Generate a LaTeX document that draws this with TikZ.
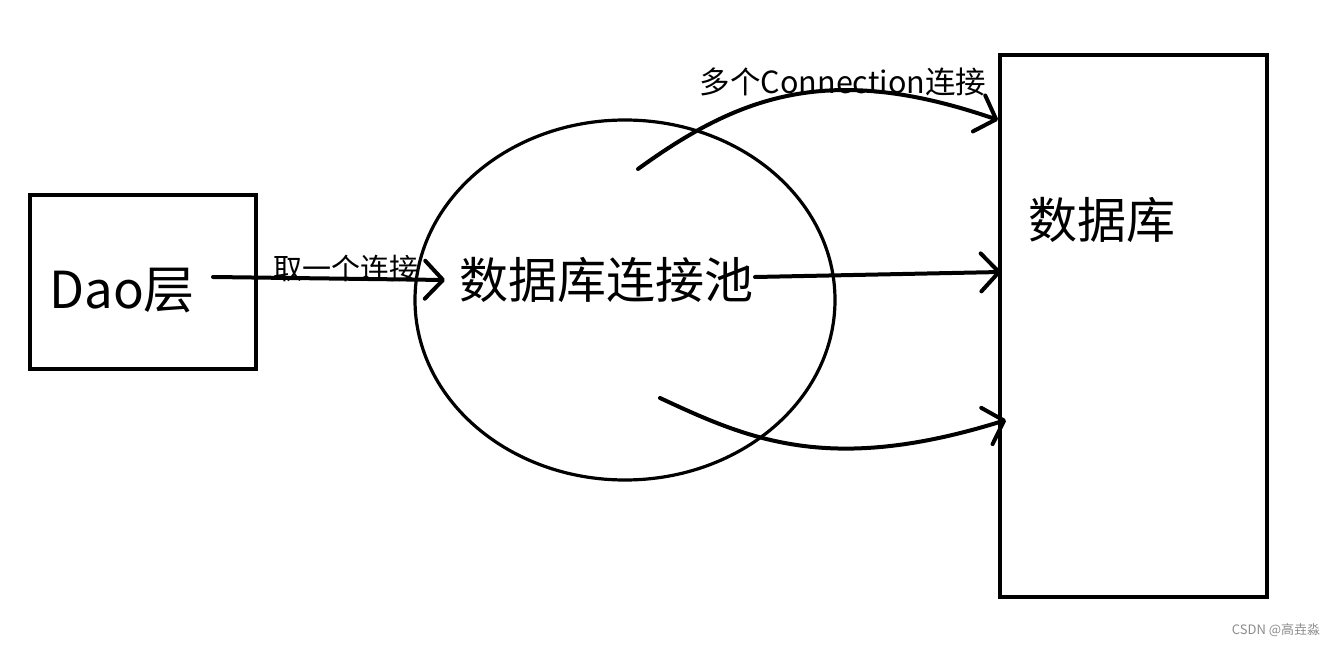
\documentclass[tikz,border=0pt]{standalone}
\usepackage{fontspec}
\setmainfont{Noto Sans CJK SC}
\usetikzlibrary{shapes.geometric,arrows.meta}
\tikzset{
  box/.style={draw,line width=4pt,inner sep=0pt},
  pool/.style={draw,ellipse,line width=3.2pt,inner sep=0pt},
  big/.style={font=\fontsize{49}{52}\selectfont,inner sep=0pt},
  small/.style={font=\fontsize{29}{32}\selectfont,inner sep=0pt},
  arr/.style={line width=4pt,line cap=round,-{Straight Barb[length=18pt,width=38pt,line width=4pt,round]}},
}
\begin{document}
\begin{tikzpicture}[x=1pt,y=-1pt]
\useasboundingbox (0,0) rectangle (1342,647);
% Dao box
\node[box,minimum width=226pt,minimum height=174pt] (dao) at (143,282) {};
\node[big,anchor=west,font=\fontsize{51}{54}\selectfont] (daotxt) at (49,291) {Dao层};
% pool ellipse
\node[pool,minimum width=420pt,minimum height=360pt] (pool) at (625,300) {};
\node[big] (pooltxt) at (606,280) {数据库连接池};
% database box
\node[box,minimum width=267pt,minimum height=542pt] (db) at (1133.5,326) {};
\node[big] (dbtxt) at (1102,220) {数据库};
% labels
\node[small] (l1) at (346,268) {取一个连接};
\node[small,font=\fontsize{30.5}{33}\selectfont] (l2) at (843,82) {多个Connection连接};
% coordinates
\coordinate (a0) at (213,277);
\coordinate (a1) at (445,280);
\coordinate (t0) at (638,169);
\coordinate (t1) at (998,120);
\coordinate (m0) at (755,277);
\coordinate (m1) at (1001,272);
\coordinate (b0) at (660,398);
\coordinate (b1) at (1006,420);
% connectors
\draw[arr] (a0) -- (a1);
\draw[arr] (t0) .. controls (740,95) and (830,62) .. (t1);
\draw[arr] (m0) -- (m1);
\draw[arr] (b0) .. controls (750,440) and (830,475) .. (b1);
% watermark
\node[font=\fontsize{13}{15}\selectfont,text=black!45,inner sep=0pt] (wm) at (1276,630) {CSDN @高垚淼};
\end{tikzpicture}
\end{document}
